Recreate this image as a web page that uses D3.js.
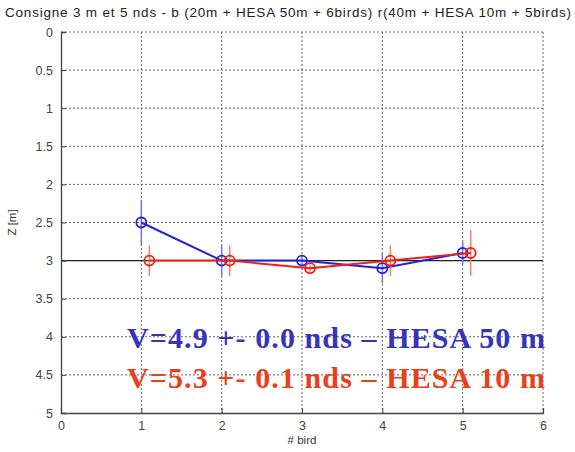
<!DOCTYPE html>
<html>
<head>
<meta charset="utf-8">
<script src="https://cdn.jsdelivr.net/npm/d3@7"></script>
<style>
	body { margin: 0; background: #fff; }
	svg { display: block; }
</style>
</head>
<body>
<svg id="plot" width="575" height="452"></svg>
<script>
// data
const birds_blue = [1, 2, 3, 4, 5];
const z_blue = [2.5, 3.0, 3.0, 3.1, 2.9];
const err_blue = [0.3, 0.2, 0.05, 0.2, 0.15];

const birds_red = [1.1, 2.1, 3.1, 4.1, 5.1];
const z_red = [3.0, 3.0, 3.1, 3.0, 2.9];
const err_red = [0.2, 0.2, 0.05, 0.2, 0.3];

const x_ticks = [0, 1, 2, 3, 4, 5, 6];
const y_ticks = [0, 0.5, 1, 1.5, 2, 2.5, 3, 3.5, 4, 4.5, 5];
const z_ref = 3;

const title_text = "Consigne 3 m et 5 nds - b (20m + HESA 50m + 6birds)  r(40m + HESA 10m + 5birds)";
const note_blue = "V=4.9 +- 0.0 nds \u2013 HESA 50 m";
const note_red = "V=5.3 +- 0.1 nds \u2013 HESA 10 m";

const svg = d3.select("#plot");
const plot_left = 61, plot_right = 543, plot_top = 32, plot_bottom = 413;

const x = d3.scaleLinear().domain([0, 6]).range([plot_left, plot_right]);
const y = d3.scaleLinear().domain([0, 5]).range([plot_top, plot_bottom]);

// grid
const grid = svg.append("g");
grid.selectAll(".gx")
	.data(x_ticks.slice(1))
	.enter().append("line")
	.attr("x1", d => x(d)).attr("x2", d => x(d))
	.attr("y1", plot_top).attr("y2", plot_bottom)
	.attr("stroke", "#666").attr("stroke-width", 1)
	.attr("stroke-dasharray", "2,2");
grid.selectAll(".gy")
	.data(y_ticks.slice(0, -1))
	.enter().append("line")
	.attr("x1", plot_left).attr("x2", plot_right)
	.attr("y1", d => y(d)).attr("y2", d => y(d))
	.attr("stroke", "#666").attr("stroke-width", 1)
	.attr("stroke-dasharray", "2,2");

// reference line
svg.append("line")
	.attr("x1", plot_left).attr("x2", plot_right)
	.attr("y1", y(z_ref)).attr("y2", y(z_ref))
	.attr("stroke", "#222").attr("stroke-width", 1.2);

// axes
const x_axis = d3.axisBottom(x).tickValues(x_ticks).tickSize(-5).tickPadding(8).tickFormat(d3.format("d"));
const y_axis = d3.axisLeft(y).tickValues(y_ticks).tickSize(-5).tickPadding(8).tickFormat(d => d);

const gx = svg.append("g").attr("transform", "translate(0," + plot_bottom + ")").call(x_axis);
const gy = svg.append("g").attr("transform", "translate(" + plot_left + ",0)").call(y_axis);
[gx, gy].forEach(g => {
	g.select(".domain").attr("stroke", "#444").attr("stroke-width", 1.3);
	g.selectAll(".tick line").attr("stroke", "#444");
	g.selectAll("text").attr("font-family", "Arial, 'Liberation Sans', sans-serif")
		.attr("font-size", 12.5).attr("fill", "#444");
});

// series
function drawSeries(xs, zs, errs, color, light) {
	const pts = xs.map((d, i) => ({x: d, z: zs[i], e: errs[i]}));
	const g = svg.append("g");
	g.selectAll(".err")
		.data(pts)
		.enter().append("line")
		.attr("x1", d => x(d.x)).attr("x2", d => x(d.x))
		.attr("y1", d => y(d.z - d.e)).attr("y2", d => y(d.z + d.e))
		.attr("stroke", light).attr("stroke-width", 1.5);
	g.append("path")
		.datum(pts)
		.attr("d", d3.line().x(d => x(d.x)).y(d => y(d.z)))
		.attr("fill", "none").attr("stroke", color).attr("stroke-width", 2);
	g.selectAll("circle")
		.data(pts)
		.enter().append("circle")
		.attr("cx", d => x(d.x)).attr("cy", d => y(d.z)).attr("r", 5)
		.attr("fill", "none").attr("stroke", color).attr("stroke-width", 1.8);
}
drawSeries(birds_blue, z_blue, err_blue, "#2222dd", "#7777ee");
drawSeries(birds_red, z_red, err_red, "#ee2211", "#f08070");

// annotations
svg.append("text")
	.attr("x", 127).attr("y", 348)
	.attr("textLength", 418).attr("lengthAdjust", "spacing")
	.attr("font-family", "'Liberation Serif', 'DejaVu Serif', serif")
	.attr("font-weight", "bold").attr("font-size", 30)
	.attr("fill", "#3535b8")
	.text(note_blue);
svg.append("text")
	.attr("x", 127).attr("y", 388)
	.attr("textLength", 418).attr("lengthAdjust", "spacing")
	.attr("font-family", "'Liberation Serif', 'DejaVu Serif', serif")
	.attr("font-weight", "bold").attr("font-size", 30)
	.attr("fill", "#e8401a")
	.text(note_red);

// labels
svg.append("text")
	.attr("x", 5).attr("y", 17)
	.attr("textLength", 566).attr("lengthAdjust", "spacing")
	.attr("font-family", "Arial, 'Liberation Sans', sans-serif")
	.attr("font-size", 13.5).attr("fill", "#222")
	.text(title_text);
svg.append("text")
	.attr("x", x(3)).attr("y", 444)
	.attr("text-anchor", "middle")
	.attr("font-family", "Arial, 'Liberation Sans', sans-serif")
	.attr("font-size", 11.5).attr("fill", "#333")
	.text("# bird");
svg.append("text")
	.attr("transform", "translate(16," + y(2.5) + ") rotate(-90)")
	.attr("text-anchor", "middle")
	.attr("font-family", "Arial, 'Liberation Sans', sans-serif")
	.attr("font-size", 11.5).attr("fill", "#333")
	.text("Z [m]");
</script>
</body>
</html>
